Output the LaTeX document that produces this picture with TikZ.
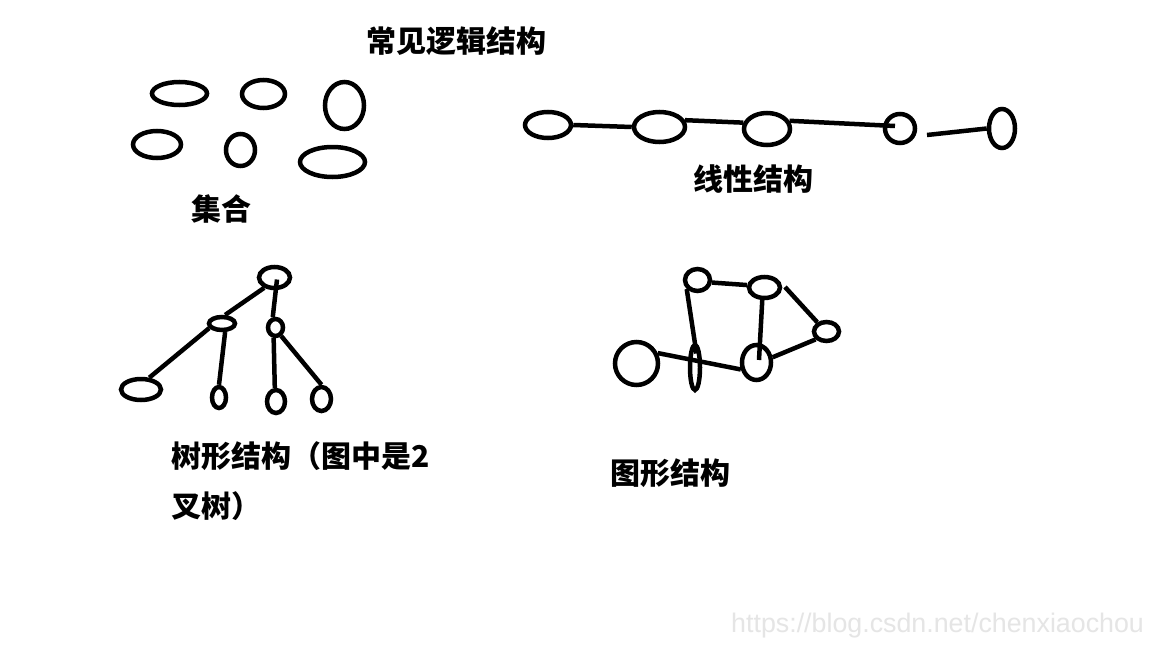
\documentclass[tikz,border=0pt]{standalone}
\usepackage{fontspec}
\newfontfamily\cjk{Noto Sans CJK SC}
\newfontfamily\wmfont{Liberation Sans}
\usetikzlibrary{shapes.geometric,calc}
\tikzset{
  ell/.style={draw=black, line width=4.5pt, shape=ellipse, inner sep=0pt, fill=none},
  edge/.style={draw=black, line width=4.5pt},
  lbl/.style={inner sep=0pt, font=\cjk\bfseries\fontsize{30}{50}\selectfont, text=black},
}
\begin{document}
\begin{tikzpicture}[x=1pt,y=-1pt]
\useasboundingbox[fill=white] (0,0) rectangle (1152,648);
% title
\node[lbl, anchor=base] (title) at (456,52) {常见逻辑结构};
% set
\node[ell, minimum width=55pt, minimum height=23pt] (A) at (179.5,93.5) {};
\node[ell, minimum width=43pt, minimum height=28pt] (B) at (263.5,94) {};
\node[ell, minimum width=39pt, minimum height=47pt] (C) at (344.5,105.5) {};
\node[ell, minimum width=48pt, minimum height=27pt] (D) at (157,144.5) {};
\node[ell, minimum width=29pt, minimum height=32pt] (E) at (240.5,150) {};
\node[ell, minimum width=65pt, minimum height=30pt] (F) at (332.5,162) {};
\node[lbl, anchor=base] (setlbl) at (221,220) {集合};
% linear
\node[ell, minimum width=46pt, minimum height=26pt] (L1) at (548,125) {};
\node[ell, minimum width=51pt, minimum height=30pt] (L2) at (659.5,127) {};
\node[ell, minimum width=46pt, minimum height=32pt] (L3) at (767,129) {};
\node[ell, minimum width=30pt, minimum height=29pt] (L4) at (900,128.5) {};
\node[ell, minimum width=26pt, minimum height=39pt] (L5) at (1002,128.5) {};
\draw[edge] (L1.east) -- (L2.west);
\draw[edge] (L2.15) -- (L3.165);
\draw[edge] (L3.20) -- ($(L4.center)+(-5,-2.5)$);
\draw[edge] ($(L4.center)+(27,6.5)$) -- (L5.west);
\node[lbl, anchor=base] (linlbl) at (753.5,190) {线性结构};
% tree
\node[ell, minimum width=31pt, minimum height=21pt] (T0) at (274.5,277.5) {};
\node[ell, minimum width=26pt, minimum height=13pt] (T1) at (222,323.5) {};
\node[ell, minimum width=15pt, minimum height=17pt] (T2) at (275.5,327.5) {};
\node[ell, minimum width=40pt, minimum height=21pt] (T3) at (141,389.5) {};
\node[ell, minimum width=14pt, minimum height=21pt] (T4) at (219,397.5) {};
\node[ell, minimum width=18pt, minimum height=23pt] (T5) at (276,401.5) {};
\node[ell, minimum width=19pt, minimum height=24pt] (T6) at (321.5,399) {};
\draw[edge] (T0.225) -- (T1.70);
\draw[edge] ($(T0.center)+(2.5,2)$) -- (T2.105);
\draw[edge] (T1.200) -- (T3.55);
\draw[edge] (T1.-70) -- (T4.north);
\draw[edge] (T2.-100) -- (T5.95);
\draw[edge] (T2.-56) -- (T6.north);
\node[lbl, anchor=base west, align=left] (treelbl) at (171,517) {树形结构（图中是2\\叉树）};
% graph
\node[ell, minimum width=25pt, minimum height=22pt] (G1) at (697.5,280) {};
\node[ell, minimum width=31pt, minimum height=21pt] (G2) at (764.5,287.5) {};
\node[ell, minimum width=25pt, minimum height=19pt] (G3) at (826.5,331.5) {};
\node[ell, minimum width=43pt, minimum height=43pt] (G4) at (636.5,363.5) {};
\node[ell, minimum width=10pt, minimum height=45pt] (G5) at (695,367.5) {};
\node[ell, minimum width=29pt, minimum height=35pt] (G6) at (756.5,362.5) {};
\draw[edge] (G1.-10) -- (G2.172);
\draw[edge] (G1.220) -- ($(G5.center)+(1.5,-14)$);
\draw[edge] (G2.-100) -- ($(G6.center)+(2.5,-2.5)$);
\draw[edge] ($(G2.center)+(20.5,-0.5)$) -- (G3.135);
\draw[edge] (G4.26) -- (G6.204);
\draw[edge] (G6.18) -- (G3.216);
\node[lbl, anchor=base] (graphlbl) at (670,484) {图形结构};
% watermark
\node[anchor=base west, inner sep=0pt, text=black!10, font=\wmfont\fontsize{26.8}{30}\selectfont] (wm) at (731,632) {https://blog.csdn.net/chenxiaochou};
\end{tikzpicture}
\end{document}
